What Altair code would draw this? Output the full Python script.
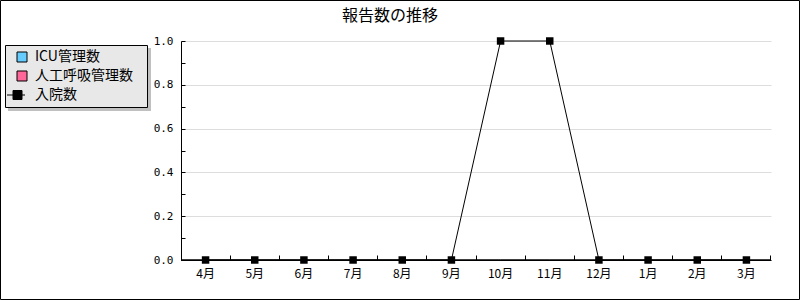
import altair as alt
import pandas as pd

months = ["4月", "5月", "6月", "7月", "8月", "9月", "10月", "11月", "12月", "1月", "2月", "3月"]
series_names = ["ICU管理数", "人工呼吸管理数", "入院数"]
icu = [0, 0, 0, 0, 0, 0, 0, 0, 0, 0, 0, 0]
vent = [0, 0, 0, 0, 0, 0, 0, 0, 0, 0, 0, 0]
admissions = [0, 0, 0, 0, 0, 0, 1, 1, 0, 0, 0, 0]
series_colors = ["#66ccff", "#ff6699", "#000000"]
y_labels = [0.0, 0.2, 0.4, 0.6, 0.8, 1.0]
y_minor = [0.0, 0.1, 0.2, 0.3, 0.4, 0.5, 0.6, 0.7, 0.8, 0.9, 1.0]

rows = []
for name, vals in zip(series_names, [icu, vent, admissions]):
    for m, v in zip(months, vals):
        rows.append({"month": m, "series": name, "value": v})
df = pd.DataFrame(rows)

W, H = 590, 219
LEFT, TOP = 181, 41
JP = "Noto Sans CJK JP"

xscale = alt.Scale(type="band", domain=months, paddingInner=0, paddingOuter=0)
yscale = alt.Scale(domain=[0, 1], nice=False, zero=True)

line_shape = "M-3,0H0.6M-1.8,-0.9H0V0.9H-1.8Z"
legend = alt.Legend(
    title=None, orient="none", legendX=-166, legendY=9,
    padding=0, labelFont=JP, labelFontSize=14, labelColor="black", labelOffset=6,
    symbolSize=100, rowPadding=5,
    symbolType=alt.ExprRef(expr="datum.value === '入院数' ? '" + line_shape + "' : 'square'"),
    symbolStrokeColor="black", symbolStrokeWidth=1, symbolOpacity=1,
)
fill = alt.Fill("series:N", scale=alt.Scale(domain=series_names, range=series_colors), legend=legend)
stroke = alt.Stroke("series:N", scale=alt.Scale(domain=series_names, range=["#000000", "#000000", "#000000"]),
                    legend=legend)

x_main = alt.X("month:N", sort=months, scale=xscale, title=None,
               axis=alt.Axis(ticks=False, domainColor="black", labelFont=JP, labelFontSize=12,
                             labelColor="black", labelPadding=8, labelAngle=0, grid=False))
y_main = alt.Y("value:Q", scale=yscale, title=None,
               axis=alt.Axis(values=y_labels, format=".1f", ticks=False, domainColor="black",
                             labelFont="DejaVu Sans Mono", labelFontSize=11, labelColor="black",
                             labelPadding=8, grid=True, gridColor="#dddddd"))

bars = alt.Chart(df).transform_filter(
    alt.datum.series != "入院数"
).mark_bar(strokeWidth=1).encode(
    x=x_main, y=y_main, xOffset=alt.XOffset("series:N", sort=series_names), fill=fill, stroke=stroke)

line = alt.Chart(df).transform_filter(
    alt.datum.series == "入院数"
).mark_line(strokeWidth=1).encode(x=x_main, y=y_main, stroke=stroke)

points = alt.Chart(df).transform_filter(
    alt.datum.series == "入院数"
).mark_point(shape="square", size=56, filled=True, opacity=1, strokeWidth=0).encode(
    x=x_main, y=y_main, fill=fill)

inner = alt.layer(bars, line, points)

ticks = alt.Chart(df).mark_point(opacity=0).encode(
    x=alt.X("month:N", sort=months, scale=xscale, title=None,
            axis=alt.Axis(orient="top", offset=-H, labels=False, domain=False, ticks=True, tickSize=5,
                          tickColor="black", bandPosition=1, grid=False)),
    y=alt.Y("value:Q", scale=yscale, title=None,
            axis=alt.Axis(orient="right", offset=-W, values=y_minor, labels=False, domain=False,
                          ticks=True, tickSize=4, tickColor="black", grid=False)),
)

frame_data = alt.Data(values=[{"k": 1}])
shadow = alt.Chart(frame_data).mark_rect(fill="#c0c0c0").encode(
    x=alt.value(8 - LEFT), x2=alt.value(151 - LEFT), y=alt.value(48 - TOP), y2=alt.value(111 - TOP))
legend_box = alt.Chart(frame_data).mark_rect(fill="#e8e8e8", stroke="black", strokeWidth=1).encode(
    x=alt.value(5.5 - LEFT), x2=alt.value(147.5 - LEFT), y=alt.value(45.5 - TOP), y2=alt.value(107.5 - TOP))
border = alt.Chart(frame_data).mark_rect(fill=None, stroke="black", strokeWidth=1).encode(
    x=alt.value(-LEFT + 0.5), x2=alt.value(800 - LEFT - 0.5), y=alt.value(-TOP + 0.5), y2=alt.value(300 - TOP - 0.5))

chart = alt.layer(shadow, legend_box, inner, ticks, border).resolve_scale(x="independent", y="independent").properties(
    width=W, height=H,
    autosize=alt.AutoSizeParams(type="none"),
    padding={"left": LEFT, "top": TOP, "right": 800 - LEFT - W, "bottom": 300 - TOP - H},
    title=alt.TitleParams("報告数の推移", font=JP, fontSize=16, fontWeight="normal", color="black",
                          anchor="middle", frame="group", dx=-86, offset=-24),
    background="white",
).configure_view(stroke=None)

chart.save("out.html", embed_options={"renderer": "svg", "actions": False})
